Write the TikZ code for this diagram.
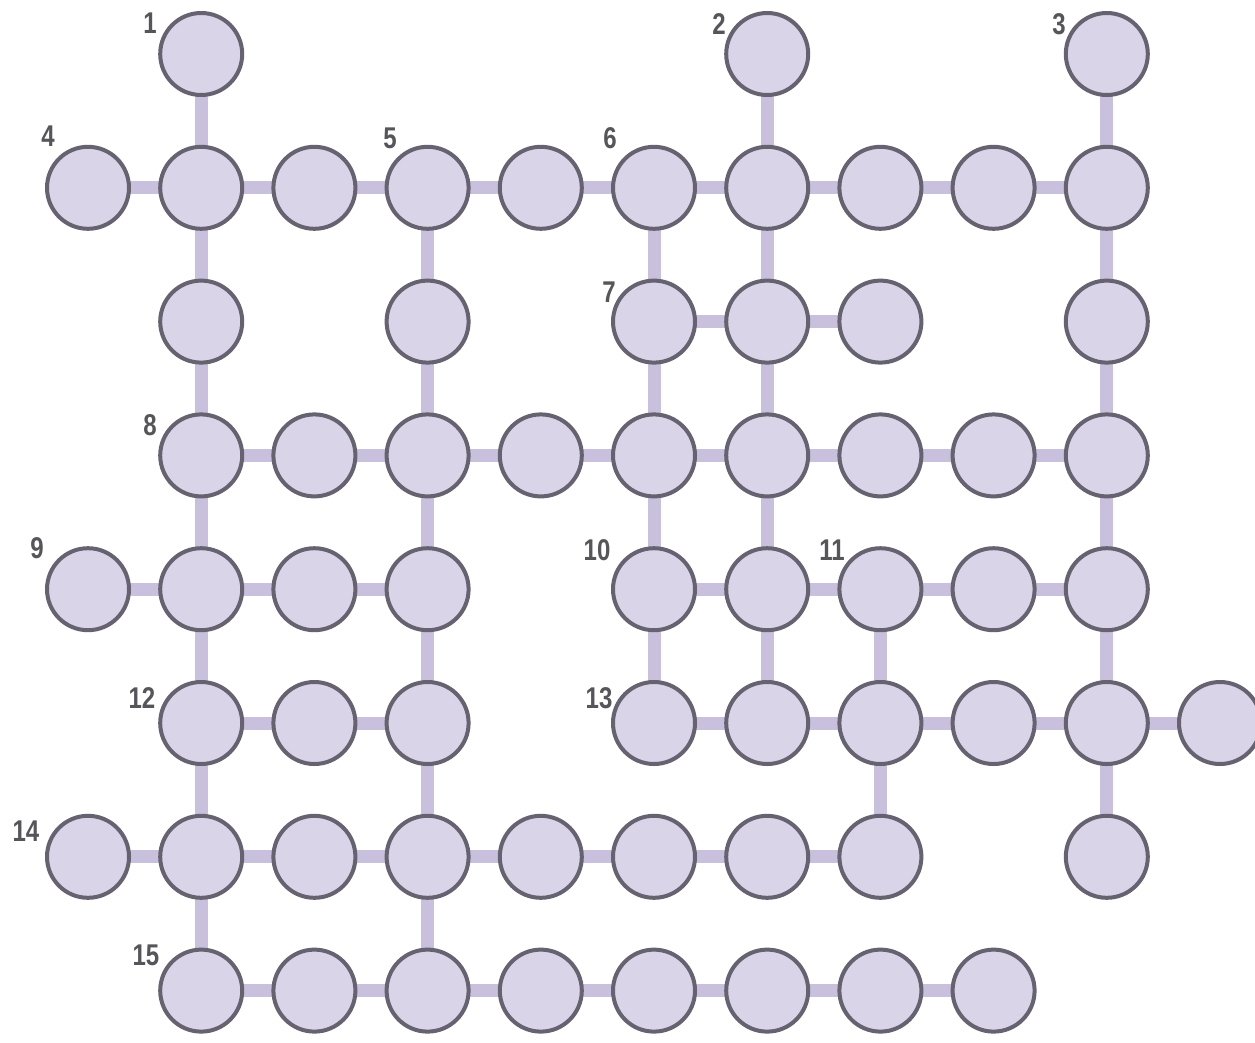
\documentclass[tikz,border=0pt]{standalone}
\usepackage{fontspec}
\setmainfont{Liberation Sans}
\usetikzlibrary{backgrounds}
\definecolor{cfill}{RGB}{218,212,232}
\definecolor{cline}{RGB}{102,98,112}
\definecolor{clink}{RGB}{200,192,220}
\definecolor{clabel}{RGB}{85,85,90}
\tikzset{
  cell/.style={circle,draw=cline,fill=cfill,line width=4pt,minimum size=82pt,inner sep=0pt},
  link/.style={draw=clink,line width=13pt},
  num/.style={text=clabel,font=\fontsize{30}{30}\selectfont\bfseries,inner sep=0pt}
}
\newcommand{\numlbl}[1]{\scalebox{0.8}[1]{#1}}
\begin{document}
\begin{tikzpicture}[x=1pt,y=-1pt]
\useasboundingbox (0,0) rectangle (1255,1042);
% nodes
\foreach \r/\cols in {0/{1,6,9},1/{0,1,2,3,4,5,6,7,8,9},2/{1,3,5,6,7,9},3/{1,2,3,4,5,6,7,8,9},4/{0,1,2,3,5,6,7,8,9},5/{1,2,3,5,6,7,8,9,10},6/{0,1,2,3,4,5,6,7,9},7/{1,2,3,4,5,6,7,8}}{
  \foreach \c in \cols {
    \node[cell] (n-\c-\r) at ({88+113.2*\c},{54+133.8*\r}) {};
  }
}
% connectors
\begin{scope}[on background layer]
\fill[white] (0,0) rectangle (1255,1042);
\foreach \r/\pairs in {1/{0/1,1/2,2/3,3/4,4/5,5/6,6/7,7/8,8/9},2/{5/6,6/7},3/{1/2,2/3,3/4,4/5,5/6,6/7,7/8,8/9},4/{0/1,1/2,2/3,5/6,6/7,7/8,8/9},5/{1/2,2/3,5/6,6/7,7/8,8/9,9/10},6/{0/1,1/2,2/3,3/4,4/5,5/6,6/7},7/{1/2,2/3,3/4,4/5,5/6,6/7,7/8}}{
  \foreach \a/\b in \pairs {
    \draw[link] (n-\a-\r.center) -- (n-\b-\r.center);
  }
}
\foreach \c/\pairs in {1/{0/1,1/2,2/3,3/4,4/5,5/6,6/7},3/{1/2,2/3,3/4,4/5,5/6,6/7},5/{1/2,2/3,3/4,4/5},6/{0/1,1/2,2/3,3/4,4/5},7/{4/5,5/6},9/{0/1,1/2,2/3,3/4,4/5,5/6}}{
  \foreach \a/\b in \pairs {
    \draw[link] (n-\c-\a.center) -- (n-\c-\b.center);
  }
}
\end{scope}
% labels
\node[num] (l1) at (150,23) {\numlbl{1}};
\node[num] (l2) at (719,24) {\numlbl{2}};
\node[num] (l3) at (1059,24) {\numlbl{3}};
\node[num] (l4) at (48,136) {\numlbl{4}};
\node[num] (l5) at (390,138) {\numlbl{5}};
\node[num] (l6) at (610,138) {\numlbl{6}};
\node[num] (l7) at (609,292) {\numlbl{7}};
\node[num] (l8) at (150,425) {\numlbl{8}};
\node[num] (l9) at (37,548) {\numlbl{9}};
\node[num] (l10) at (597,550) {\numlbl{10}};
\node[num] (l11) at (832,550) {\numlbl{11}};
\node[num] (l12) at (142,698) {\numlbl{12}};
\node[num] (l13) at (599,698) {\numlbl{13}};
\node[num] (l14) at (26,831) {\numlbl{14}};
\node[num] (l15) at (146,955) {\numlbl{15}};
\end{tikzpicture}
\end{document}
